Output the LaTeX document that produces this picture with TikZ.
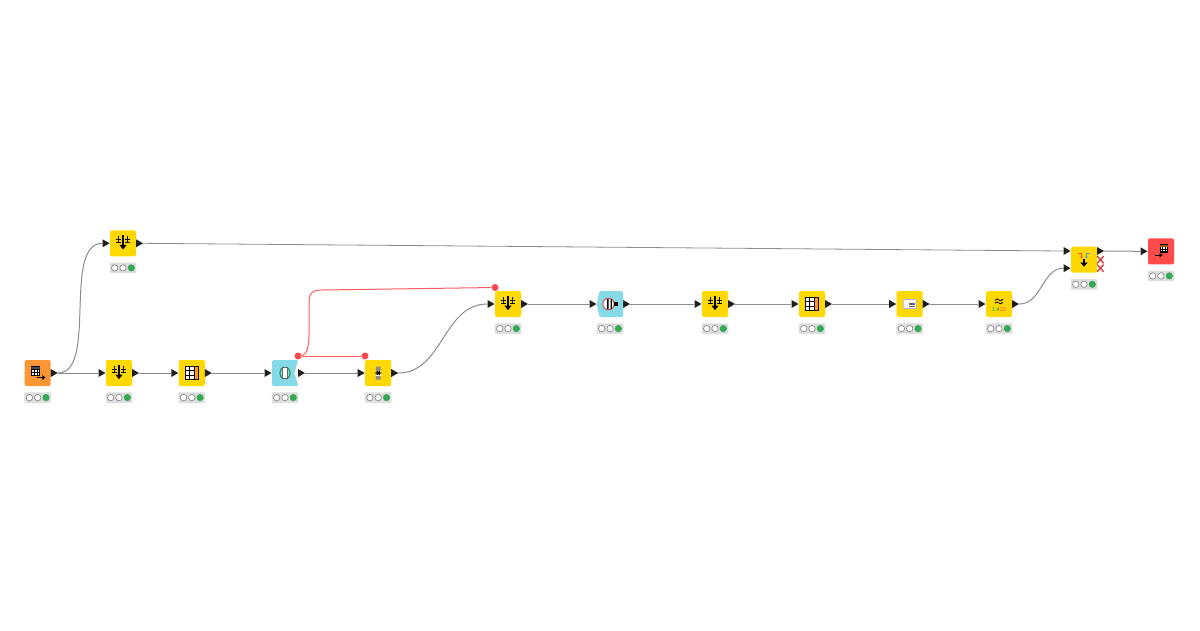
\documentclass[tikz,border=0pt]{standalone}
\usepackage{fontspec}
\setmainfont{Liberation Sans}
\definecolor{kyellow}{HTML}{FFD800}
\definecolor{korange}{HTML}{FF9636}
\definecolor{kblue}{HTML}{86D9E6}
\definecolor{kred}{HTML}{FF4B4B}
\definecolor{kgreen}{HTML}{34A853}
\definecolor{kgrey}{HTML}{DDDDDD}
\definecolor{kedge}{HTML}{8C8C8C}
\definecolor{kink}{HTML}{1E1E1E}
\tikzset{
  kbox/.style={minimum size=26pt,inner sep=0pt,rounded corners=1.5pt},
  kstat/.style={fill=kgrey,minimum width=26.5pt,minimum height=10.5pt,inner sep=0pt,rounded corners=1pt},
  klight/.style={circle,minimum size=6.4pt,inner sep=0pt,draw=black!50,line width=.6pt,fill=white},
  kon/.style={klight,fill=kgreen,draw=kgreen},
  kport/.style={minimum width=7pt,minimum height=8pt,inner sep=0pt,
    path picture={\fill[kink] (path picture bounding box.north west) -- (path picture bounding box.east) -- (path picture bounding box.south west) -- cycle;}},
  kflow/.style={circle,fill=kred,minimum size=7pt,inner sep=0pt},
  kconn/.style={draw=kedge,line width=1pt},
  kvar/.style={draw=kred!90!white,line width=1pt},
}
\newcommand{\kbare}[4]{%
  \node[kbox,fill=#4] (#1) at (#2,#3) {};
  \node[kstat] (#1-s) at ([yshift=-24.6pt]#1.center) {};
  \node[klight] (#1-a) at ([xshift=-8.3pt]#1-s.center) {};
  \node[klight] (#1-b) at (#1-s.center) {};
  \node[kon] (#1-c) at ([xshift=8.3pt]#1-s.center) {};
}
\newcommand{\kout}[1]{\node[kport] (#1-o) at ([xshift=16.5pt]#1.center) {};}
\newcommand{\kin}[1]{\node[kport] (#1-i) at ([xshift=-17pt]#1.center) {};}
\newcommand{\knode}[4]{\kbare{#1}{#2}{#3}{#4}\kout{#1}\kin{#1}}
\newcommand{\igroup}[1]{\begin{scope}[shift={(#1.center)}]
  \draw[black,line width=.8pt] (-4.5,-7) -- (-4.5,-.5) (4.5,-7) -- (4.5,-.5)
    (-6.8,-3.6) -- (-2.2,-3.6) (-6.8,-1) -- (-2.2,-1) (2.2,-3.6) -- (6.8,-3.6) (2.2,-1) -- (6.8,-1);
  \draw[black,line width=1.5pt] (0,-8) -- (0,2);
  \fill[black] (-3.6,1.6) -- (3.6,1.6) -- (0,6.2) -- cycle;
\end{scope}}
\newcommand{\itable}[1]{\begin{scope}[shift={(#1.center)}]
  \fill[white] (-6.5,-6.5) rectangle (6.5,6.5);
  \fill[korange] (2.1,-6.5) rectangle (6.5,6.5);
  \draw[black,line width=.8pt] (-6.5,-6.5) rectangle (6.5,6.5)
    (-2.2,-6.5) -- (-2.2,6.5) (2.1,-6.5) -- (2.1,6.5)
    (-6.5,-2.2) -- (2.1,-2.2) (-6.5,2.2) -- (2.1,2.2);
\end{scope}}
\begin{document}
\begin{tikzpicture}[x=1pt,y=-1pt]
\useasboundingbox (0,0) rectangle (1200,630);
\fill[white] (0,0) rectangle (1200,630);

\kbare{reader}{37.7}{373}{korange}\kout{reader}
\knode{groupa}{123}{243.3}{kyellow}
\knode{groupb}{119}{373}{kyellow}
\knode{tablea}{191.8}{373}{kyellow}
\knode{loopa}{285}{373}{none}
\knode{snip}{378.2}{373}{kyellow}
\knode{groupc}{508}{304}{kyellow}
\knode{loopb}{610}{304}{none}
\knode{groupd}{715}{304}{kyellow}
\knode{tableb}{812}{304}{kyellow}
\knode{boxa}{909.7}{304}{kyellow}
\knode{rnd}{999}{304}{kyellow}
\kbare{join}{1084}{259.7}{kyellow}
\node[kport] (join-ia) at ([xshift=-17pt,yshift=8.7pt]join.center) {};
\node[kport] (join-ib) at ([xshift=-17pt,yshift=-8.5pt]join.center) {};
\node[kport] (join-oa) at ([xshift=16.5pt,yshift=8.7pt]join.center) {};
\kbare{writer}{1161}{251.3}{kred}\kin{writer}

% blue loop bodies
\fill[kblue,rounded corners=1.5pt] (272,360) -- (298.3,360) -- (294.3,373) -- (298.3,386) -- (272,386) -- cycle;
\fill[kblue,rounded corners=1.5pt] (599.5,291) -- (623,291) -- (623,317) -- (599.5,317) -- (596.8,304) -- cycle;

% connectors
\draw[kconn] (reader-o.east) .. controls (98,373) and (62,243.3) .. (groupa-i.west);
\draw[kconn] (reader-o.east) -- (groupb-i.west);
\draw[kconn] (groupb-o.east) -- (tablea-i.west);
\draw[kconn] (tablea-o.east) -- (loopa-i.west);
\draw[kconn] (loopa-o.east) -- (snip-i.west);
\draw[kconn] (snip-o.east) .. controls (443,373) and (443,304) .. (groupc-i.west);
\draw[kconn] (groupc-o.east) -- (loopb-i.west);
\draw[kconn] (loopb-o.east) -- (groupd-i.west);
\draw[kconn] (groupd-o.east) -- (tableb-i.west);
\draw[kconn] (tableb-o.east) -- (boxa-i.west);
\draw[kconn] (boxa-o.east) -- (rnd-i.west);
\draw[kconn] (rnd-o.east) .. controls (1042,304) and (1042,268.4) .. (join-ib.west);
\draw[kconn,line width=.8pt] (groupa-o.east) -- (join-ia.west);
\draw[kconn] (join-oa.east) -- (writer-i.west);

% flow variable connections
\node[kflow] (fa) at (298,356) {};
\node[kflow] (fb) at (365,356) {};
\node[kflow] (fc) at (495,287.5) {};
\draw[kvar] (fa) -- (fb);
\draw[kvar] (fa) .. controls (306,355) and (309,348) .. (309,335) -- (309,303) .. controls (309,293) and (312,290) .. (322,290) -- (fc);

% icons
\begin{scope}[shift={(reader.center)}]
  \fill[white] (-6.5,-6.5) rectangle (2,2);
  \draw[black,line width=.7pt] (-6.5,-6.5) rectangle (2,2) (-6.5,-3.8) -- (2,-3.8) (-6.5,-1) -- (2,-1) (-3.6,-3.8) -- (-3.6,2) (-.8,-3.8) -- (-.8,2);
  \fill[black!70] (-6.5,-6.5) rectangle (2,-4.2);
  \draw[black,line width=1.1pt] (-.5,4.5) -- (5,4.5);
  \fill[black] (4.5,2.2) -- (7.8,4.5) -- (4.5,6.8) -- cycle;
\end{scope}
\igroup{groupa}
\igroup{groupb}
\igroup{groupc}
\igroup{groupd}
\itable{tablea}
\itable{tableb}
\begin{scope}[shift={(loopa.center)}]
  \draw[kgreen!85!black,line width=1.1pt] (-1,-6) .. controls (-6.5,-5) and (-6.5,5) .. (-1,6) (1,-6) .. controls (6.5,-5) and (6.5,5) .. (1,6);
  \fill[white,draw=black!60,line width=.5pt] (-2.3,-5.5) rectangle (2.3,5.5);
\end{scope}
\begin{scope}[shift={(snip.center)}]
  \fill[black!45] (-2.3,-6.5) rectangle (2.3,-2.5) (-2.3,2.5) rectangle (2.3,6.5);
  \fill[white] (-2.3,-2.5) rectangle (2.3,2.5);
  \draw[black,line width=1.1pt] (-2.8,0) -- (2.8,0) (-1.5,-2) -- (1.5,2) (1.5,-2) -- (-1.5,2);
\end{scope}
\begin{scope}[shift={(loopb.center)}]
  \draw[kred!85!black,line width=.9pt,fill=white] (-1.5,0) circle (5.7);
  \fill[black] (-2.8,-5) rectangle (-1.3,5) (.6,-5) rectangle (1.8,5);
  \fill[black] (4,-2.4) rectangle (8,2.4);
\end{scope}
\begin{scope}[shift={(boxa.center)}]
  \fill[white,draw=black!35!blue!30!white,line width=.9pt,rounded corners=.8pt] (-6.5,-4.5) rectangle (6.5,4.5);
  \draw[black!60,line width=.6pt] (-.5,-1.2) -- (5,-1.2) (-.5,.4) -- (5,.4) (-.5,2) -- (5,2);
\end{scope}
\begin{scope}[shift={(rnd.center)}]
  \draw[black,line width=.8pt] (-4,-3.8) .. controls (-2,-6) and (-1,-5) .. (0,-4) .. controls (1,-3) and (2,-2.6) .. (4,-4.8)
    (-4,-.8) .. controls (-2,-3) and (-1,-2) .. (0,-1) .. controls (1,0) and (2,.4) .. (4,-1.8);
  \node[inner sep=0pt,font=\fontsize{5.6}{6}\selectfont] (rndtext) at (0,5.2) {\textcolor{teal!70!green}{1.}\textcolor{green!60!black}{4}\textcolor{kred}{23}};
\end{scope}
\begin{scope}[shift={(join.center)}]
  \draw[kred!80!orange,line width=.8pt] (-6,-6.5) -- (-2.5,-6.5) -- (-2.5,-3);
  \fill[kred!80!orange] (-4,-3.2) -- (-1,-3.2) -- (-2.5,-1) -- cycle;
  \draw[kblue!70!blue,line width=.8pt] (6,-6.5) -- (2.5,-6.5) -- (2.5,-3);
  \fill[kblue!70!blue] (1,-3.2) -- (4,-3.2) -- (2.5,-1) -- cycle;
  \draw[black,line width=1.4pt] (0,-1) -- (0,3.5);
  \fill[black] (-3.6,3) -- (3.6,3) -- (0,7) -- cycle;
\end{scope}
\begin{scope}[shift={(join.center)}]
  \foreach \yy in {0,8.5} {
    \fill[white] (13,\yy-3.6) -- (19.5,\yy) -- (13,\yy+3.6) -- cycle;
    \draw[kred!85!black,line width=1.4pt] (13.2,\yy-3.6) -- (19.6,\yy+3.6) (13.2,\yy+3.6) -- (19.6,\yy-3.6);
  }
\end{scope}
\begin{scope}[shift={(writer.center)}]
  \fill[white] (-1,-6.5) rectangle (6.5,1.5);
  \draw[black,line width=.7pt] (-1,-6.5) rectangle (6.5,1.5) (-1,-1.5) -- (6.5,-1.5) (-1,-.2) -- (6.5,-.2) (1.5,-4) -- (1.5,1.5) (4,-4) -- (4,1.5);
  \fill[korange!60!black] (-1,-6.5) rectangle (6.5,-4);
  \draw[black,line width=1.1pt] (-6,3.8) -- (-1,3.8);
  \fill[black] (-1.5,1.6) -- (1.6,3.8) -- (-1.5,6) -- cycle;
\end{scope}
\end{tikzpicture}
\end{document}
